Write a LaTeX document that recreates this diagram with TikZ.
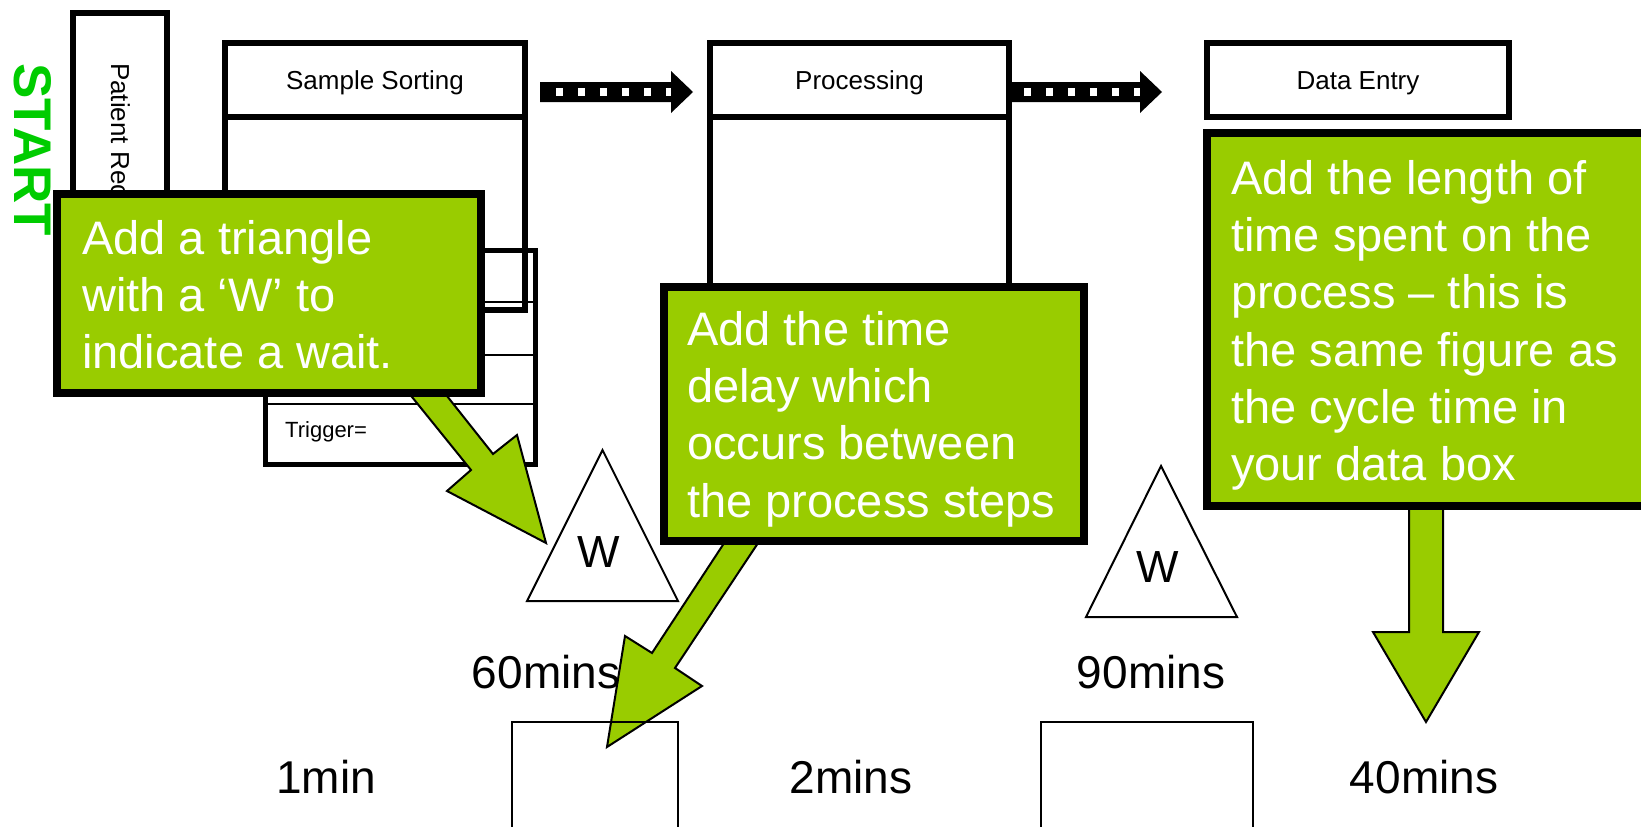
\documentclass[tikz,border=0pt]{standalone}
\usepackage{fontspec}
\setmainfont{Liberation Sans}
\usetikzlibrary{calc}
\definecolor{gfill}{RGB}{153,204,0}
\definecolor{startgreen}{RGB}{0,204,0}
\begin{document}
\begin{tikzpicture}[x=1pt,y=-1pt,
  box/.style={draw, line width=5.5pt, inner sep=0pt, outer sep=0pt},
  thinbox/.style={draw, line width=2pt, inner sep=0pt, outer sep=0pt},
  gbox/.style={draw=black, fill=gfill, line width=8pt, inner sep=0pt, outer sep=0pt},
  lbl/.style={inner sep=0pt, font=\fontsize{26}{31}\selectfont},
  gtext/.style={inner sep=0pt, anchor=north west, align=left, text=white, font=\fontsize{47}{57.3}\selectfont},
  tlabel/.style={inner sep=0pt, anchor=base, font=\fontsize{46}{55}\selectfont},
  wlabel/.style={inner sep=0pt, anchor=base, font=\fontsize{45}{54}\selectfont},
  garrow/.style={fill=gfill, draw=black, line width=2pt},
  tri/.style={draw, line width=2pt, fill=white},
  flowarrow/.style={fill=black},
  flowdots/.style={draw=white, line width=8pt, dash pattern=on 6.5pt off 15.5pt}
]
\useasboundingbox (0,0) rectangle (1641,827);
\clip (0,0) rectangle (1641,827);

% Patient column and START
\node[box, minimum width=94pt, minimum height=287pt] (patient) at (120,156.5) {};
\node[lbl, rotate=-90, anchor=base west] (patienttxt) at (111,63) {Patient Reception};
\node[rotate=-90, inner sep=0pt, text=startgreen, font=\bfseries\fontsize{53}{60}\selectfont] (start) at (33,150) {START};

% Process boxes
\node[box, minimum width=300pt, minimum height=193pt] (ssbody) at (375,213.5) {};
\node[box, minimum width=300pt, minimum height=74pt] (ss) at (375,80) {};
\node[lbl, anchor=base] (sstxt) at (375,89) {Sample Sorting};

\node[box, minimum width=299pt, minimum height=193pt] (procbody) at (859.5,213.5) {};
\node[box, minimum width=299pt, minimum height=74pt] (proc) at (859.5,80) {};
\node[lbl, anchor=base] (proctxt) at (859.5,89) {Processing};

\node[box, minimum width=302pt, minimum height=74pt] (de) at (1358,80) {};
\node[lbl, anchor=base] (detxt) at (1358,89) {Data Entry};

% Push arrows
\coordinate (a1s) at (540,92);
\coordinate (a1e) at (693,92);
\fill[flowarrow] (540,82) -- (671,82) -- (671,71) -- (a1e) -- (671,113) -- (671,102) -- (540,102) -- cycle;
\draw[flowdots] (556,92) -- (671,92);
\coordinate (a2s) at (1011,92);
\coordinate (a2e) at (1162,92);
\fill[flowarrow] (1011,82) -- (1140,82) -- (1140,71) -- (a2e) -- (1140,113) -- (1140,102) -- (1011,102) -- cycle;
\draw[flowdots] (1024,92) -- (1140,92);

% Data box
\node[draw, line width=5pt, inner sep=0pt, outer sep=0pt, minimum width=270pt, minimum height=214pt] (trig) at (400,357) {};
\draw[line width=2pt] (265,302) -- (535,302);
\draw[line width=2pt] (265,355) -- (535,355);
\draw[line width=2pt] (265,404) -- (535,404);
\node[inner sep=0pt, anchor=base west, font=\fontsize{22}{26}\selectfont] (trigtxt) at (285,437) {Trigger=};

% Wait triangles
\coordinate (t1a) at (602.5,450);
\coordinate (t1l) at (527,601);
\coordinate (t1r) at (678,601);
\draw[tri] (t1a) -- (t1l) -- (t1r) -- cycle;
\node[wlabel] (w1) at (599,567) {W};
\coordinate (t2a) at (1161,466);
\coordinate (t2l) at (1086,617);
\coordinate (t2r) at (1237,617);
\draw[tri] (t2a) -- (t2l) -- (t2r) -- cycle;
\node[wlabel] (w2) at (1158,582) {W};

% Callout arrows
\filldraw[garrow] (399.5,381.5) -- (471,470) -- (447,491) -- (546,543) -- (517,435) -- (493,454) -- (435.5,381.5) -- cycle;
\filldraw[garrow] (734,528) -- (652,653) -- (625,636) -- (607,747) -- (702,686) -- (675,668) -- (768,528) -- cycle;
\filldraw[garrow] (1409,495) -- (1409,632) -- (1373,632) -- (1426,722) -- (1479,632) -- (1443,632) -- (1443,495) -- cycle;

% Callout boxes
\node[gbox, minimum width=424pt, minimum height=199pt] (g1) at (269,293.5) {};
\node[gtext] (g1t) at (82,213.9) {\strut Add a triangle\\with a ‘W’ to\\indicate a wait.};
\node[gbox, minimum width=420pt, minimum height=254pt] (g2) at (874,414) {};
\node[gtext] (g2t) at (687,304.9) {\strut Add the time\\delay which\\occurs between\\the process steps};
\node[gbox, minimum width=473pt, minimum height=373pt] (g3) at (1443.5,319.5) {};
\node[gtext] (g3t) at (1231,153.9) {\strut Add the length of\\time spent on the\\process – this is\\the same figure as\\the cycle time in\\your data box};

% Timeline
\node[tlabel] (t60) at (546,688) {60mins};
\node[tlabel] (t90) at (1151,688) {90mins};
\node[tlabel] (t1) at (326,793) {1min};
\node[tlabel] (t2) at (851,793) {2mins};
\node[tlabel] (t40) at (1424,793) {40mins};
\node[thinbox, minimum width=166pt, minimum height=140pt] (b1) at (595,792) {};
\node[thinbox, minimum width=212pt, minimum height=140pt] (b2) at (1147,792) {};
\end{tikzpicture}
\end{document}
